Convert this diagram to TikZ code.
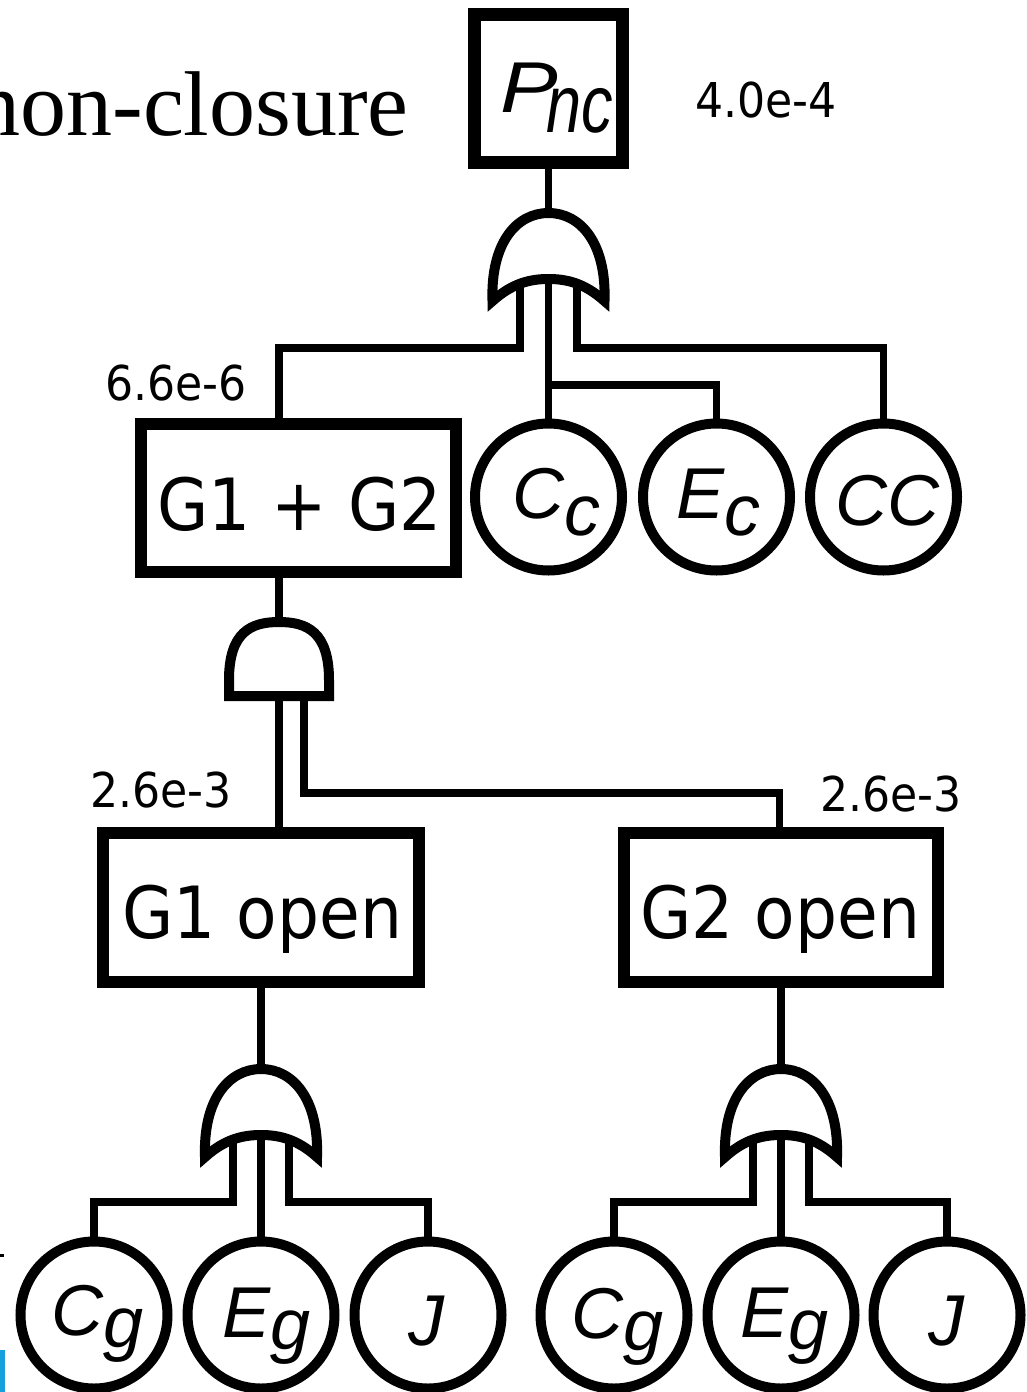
\documentclass[tikz,border=0pt]{standalone}
\usepackage{fontspec}
\usepackage{graphicx}
\newfontfamily\tfont[FakeStretch=0.92]{DejaVu Sans}
\newfontfamily\vfont{Liberation Sans}
\newfontfamily\rfont{Liberation Serif}
\definecolor{slideblue}{RGB}{20,160,220}
\tikzset{
  orgate/.pic={\draw[gate] (-56,88) .. controls (-58,30) and (-32,0) .. (0,0) .. controls (32,0) and (58,30) .. (56,88) .. controls (36,70) and (18,66) .. (0,66) .. controls (-18,66) and (-36,70) .. cycle;},
  andgate/.pic={\draw[gate] (-50,74) -- (-50,58) .. controls (-50,10) and (-28,0) .. (0,0) .. controls (28,0) and (50,10) .. (50,58) -- (50,74) -- cycle;}
}
\begin{document}
\begin{tikzpicture}[x=1pt,y=-1pt,
  box/.style={draw, rectangle, fill=white, inner sep=0pt},
  evt/.style={draw, circle, line width=10pt, minimum size=147pt, inner sep=0pt, fill=white},
  wire/.style={line width=7.5pt},
  gate/.style={draw, line width=10pt, fill=white, line join=miter, miter limit=20},
  num/.style={font=\tfont\fontsize{48}{56}\selectfont, anchor=base west, inner sep=0pt},
  boxtxt/.style={font=\tfont\fontsize{72}{80}\selectfont, anchor=base west, inner sep=0pt},
  var/.style={font=\vfont\itshape\fontsize{72}{80}\selectfont, anchor=base west, inner sep=0pt}]
\useasboundingbox (0,0) rectangle (1026,1392);

% title fragment
\node[font=\rfont\fontsize{92}{100}\selectfont, anchor=base east, inner sep=0pt] (title) at (409,135) {non-closure};

% boxes
\node[box, line width=13pt, minimum width=148pt, minimum height=148pt] (Pnc) at (548.5,88.5) {};
\node[box, line width=12pt, minimum width=315pt, minimum height=148pt] (G12) at (298.5,498) {};
\node[box, line width=12pt, minimum width=316pt, minimum height=149pt] (G1) at (261,907.5) {};
\node[box, line width=12pt, minimum width=314pt, minimum height=149pt] (G2) at (781,907.5) {};

% basic events
\node[evt] (Cc) at (548.5,497) {};
\node[evt] (Ec) at (716.5,497) {};
\node[evt] (CC) at (883.5,497) {};
\node[evt] (Cg1) at (94,1315) {};
\node[evt] (Eg1) at (261,1315) {};
\node[evt] (J1) at (428,1315) {};
\node[evt] (Cg2) at (614,1315) {};
\node[evt] (Eg2) at (781,1315) {};
\node[evt] (J2) at (947,1315) {};

% gate positions (top points)
\coordinate (or1) at (548.5,213);
\coordinate (and1) at (279,622);
\coordinate (or2) at (261,1069);
\coordinate (or3) at (781,1069);
% bends
\coordinate (j1) at (279,348);
\coordinate (j2) at (548.5,385);
\coordinate (j3) at (883.5,348);
\coordinate (j4) at (779.5,793);
\coordinate (j5) at (94,1202);
\coordinate (j6) at (428,1202);
\coordinate (j7) at (614,1202);
\coordinate (j8) at (947,1202);

% connectors
\draw[wire] (Pnc.south) -- (or1);
\draw[wire] (or1) ++(-28.5,66) |- (j1) -- (j1 |- G12.north);
\draw[wire] (or1) ++(0,66) -- (Cc.north);
\draw[wire] (j2) -| (Ec.north);
\draw[wire] (or1) ++(28.5,66) |- (j3) -- (CC.north);

\draw[wire] (and1 |- G12.south) -- (and1);
\draw[wire] (and1) ++(0,74) -- (and1 |- G1.north);
\draw[wire] (and1) ++(25,74) |- (j4) -- (j4 |- G2.north);

\draw[wire] (G1.south) -- (or2);
\draw[wire] (or2) ++(-28,66) |- (j5) -- (Cg1.north);
\draw[wire] (or2) ++(0,66) -- (Eg1.north);
\draw[wire] (or2) ++(28,66) |- (j6) -- (J1.north);

\draw[wire] (G2.south) -- (or3);
\draw[wire] (or3) ++(-28,66) |- (j7) -- (Cg2.north);
\draw[wire] (or3) ++(0,66) -- (Eg2.north);
\draw[wire] (or3) ++(28,66) |- (j8) -- (J2.north);

% gates
\pic at (or1) {orgate};
\pic[line width=10.5pt] at (and1) {andgate};
\pic at (or2) {orgate};
\pic at (or3) {orgate};

% texts
\node[var] (tP) at (500,112) {\scalebox{1.2}[1]{P}\hspace{-11pt}\raisebox{-20pt}{\fontsize{63}{70}\selectfont\scalebox{1}[1.3]{nc}}};
\node[num] (p0) at (695,117) {4.0e-4};
\node[num] (p1) at (105,400) {6.6e-6};
\node[num] (p2) at (90,807) {2.6e-3};
\node[num] (p3) at (820,811) {2.6e-3};

\node[boxtxt] (tG12) at (157,530) {G1 + G2};
\node[boxtxt] (tG1) at (122,938) {G1 open};
\node[boxtxt] (tG2) at (640,938) {G2 open};

\node[var] (tCc) at (512,518) {C\raisebox{-17pt}{c}};
\node[var] (tEc) at (676,518) {E\raisebox{-17pt}{c}};
\node[var] (tCC) at (835,525) {CC};
\node[var] (tCg1) at (51,1335) {C\raisebox{-12pt}{g}};
\node[var] (tEg1) at (222,1337) {E\raisebox{-12pt}{g}};
\node[var] (tJ1) at (408,1345) {J};
\node[var] (tCg2) at (571,1338) {C\raisebox{-12pt}{g}};
\node[var] (tEg2) at (740,1337) {E\raisebox{-12pt}{g}};
\node[var] (tJ2) at (928,1345) {J};

% slide edge marks
\fill (0,1254) rectangle (4,1257);
\fill[slideblue] (0,1350) rectangle (5,1392);
\end{tikzpicture}
\end{document}
